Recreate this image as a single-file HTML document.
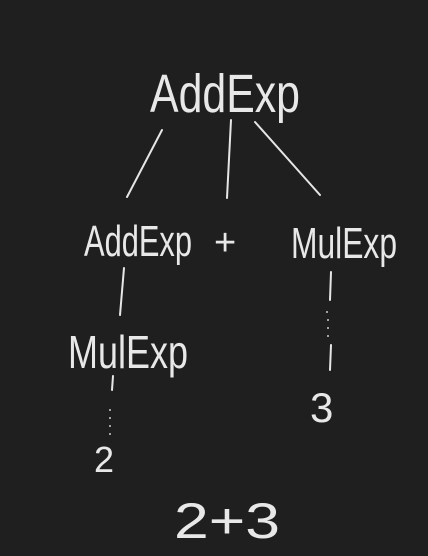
<!DOCTYPE html>
<html><head><style>
html,body{margin:0;padding:0;background:#1f1f1f;}
svg{display:block;}
text{font-family:"Liberation Sans",sans-serif;fill:#e8e8e8;}
</style></head><body>
<svg width="428" height="556" viewBox="0 0 428 556">
<rect width="428" height="556" fill="#1f1f1f"/>
<g stroke="#e6e6e6" stroke-width="2" stroke-linecap="round" fill="none">
<line x1="162" y1="130" x2="127" y2="197"/>
<line x1="231" y1="120" x2="227" y2="198"/>
<line x1="255" y1="122" x2="320" y2="195"/>
<line x1="124" y1="268" x2="120" y2="315"/>
<line x1="113" y1="376" x2="112" y2="390"/>
<line x1="331" y1="272" x2="330" y2="300"/>
<line x1="331" y1="345" x2="330" y2="370"/>
</g>
<g fill="#cccccc">
<circle cx="110" cy="410" r="1"/><circle cx="110" cy="418" r="1"/><circle cx="110" cy="426" r="1"/><circle cx="110" cy="434" r="1"/>
<circle cx="327" cy="312" r="1"/><circle cx="328" cy="320" r="1"/><circle cx="328" cy="328" r="1"/><circle cx="328" cy="336" r="1"/>
</g>
<text x="150" y="112" font-size="54" textLength="150" lengthAdjust="spacingAndGlyphs">AddExp</text>
<text x="84" y="256" font-size="44" textLength="108" lengthAdjust="spacingAndGlyphs">AddExp</text>
<text x="214" y="255" font-size="38">+</text>
<text x="291" y="258" font-size="44" textLength="106" lengthAdjust="spacingAndGlyphs">MulExp</text>
<text x="68" y="368" font-size="46" textLength="120" lengthAdjust="spacingAndGlyphs">MulExp</text>
<text x="94" y="472" font-size="36">2</text>
<text x="310" y="422" font-size="42">3</text>
<text x="174" y="538" font-size="50" textLength="106" lengthAdjust="spacingAndGlyphs">2+3</text>
</svg>
</body></html>
